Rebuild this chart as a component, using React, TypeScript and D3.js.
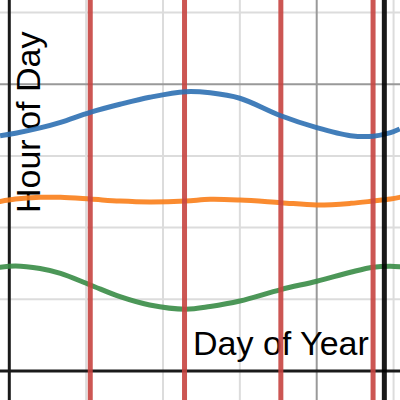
import * as d3 from "d3";

const width = 400;
const height = 400;

// day of year samples and the hour
const days = [-9, 6, 30, 50, 79, 108, 137, 172, 196, 225, 265, 300, 333, 355, 372, 381];
const sunrise = [7.23, 7.33, 7.15, 6.81, 6.0, 5.18, 4.6, 4.31, 4.5, 4.88, 5.68, 6.26, 6.89, 7.24, 7.31, 7.27];
const solarNoon = [11.82, 11.99, 12.11, 12.11, 11.99, 11.85, 11.79, 11.85, 11.97, 11.92, 11.74, 11.58, 11.69, 11.85, 11.99, 12.11];
const sunset = [16.41, 16.58, 16.95, 17.34, 18.04, 18.6, 19.09, 19.48, 19.4, 19.02, 17.8, 16.97, 16.41, 16.37, 16.62, 16.88];

// equinoxes / solstices and end of year
const seasonDays = [79, 171, 265, 355];
const yearEnd = 366;

// grid
const xMinorTicks = [75, 150, 225, 375];
const xMajorTicks = [300];
const yMinorTicks = [5, 10, 15, 25];
const yMajorTicks = [20];

const xScale = d3.scaleLinear().domain([0, 366]).range([9.3, 9.3 + 366 * 1.0247]);
const yScale = d3.scaleLinear().domain([0, 25]).range([371, 371 - 25 * 14.34]);

const curve = (values: number[]) =>
  d3
    .line<number>()
    .x((_, i) => xScale(days[i]))
    .y((v) => yScale(v))
    .curve(d3.curveCatmullRom)(values) || "";

const App = () => {
  return (
    <div style={{ position: "absolute", left: 0, top: 0, width, height }}>
      <svg width={width} height={height} style={{ display: "block", background: "#fff" }}>
        <g className="grid-minor" stroke="#dcdcdc" strokeWidth={2}>
          {xMinorTicks.map((t) => (
            <line key={"x" + t} x1={xScale(t)} x2={xScale(t)} y1={0} y2={height} />
          ))}
          {yMinorTicks.map((t) => (
            <line key={"y" + t} x1={0} x2={width} y1={yScale(t)} y2={yScale(t)} />
          ))}
        </g>
        <g className="grid-major" stroke="#999" strokeWidth={2}>
          {xMajorTicks.map((t) => (
            <line key={"x" + t} x1={xScale(t)} x2={xScale(t)} y1={0} y2={height} />
          ))}
          {yMajorTicks.map((t) => (
            <line key={"y" + t} x1={0} x2={width} y1={yScale(t)} y2={yScale(t)} />
          ))}
        </g>
        <g className="axes" stroke="#1a1a1a" strokeWidth={3}>
          <line x1={xScale(0)} x2={xScale(0)} y1={0} y2={height} />
          <line x1={0} x2={width} y1={yScale(0)} y2={yScale(0)} />
        </g>
        {/* axis labels */}
        <g fontFamily="'Liberation Sans', Arial, sans-serif" fontSize={34} fill="#000">
          <text x={193} y={355}>
            Day of Year
          </text>
          <text transform="translate(40,213) rotate(-90)">Hour of Day</text>
        </g>
        <g fill="none" strokeWidth={5} strokeOpacity={0.9} strokeLinecap="round">
          <path d={curve(solarNoon)} stroke="#fa7e19" />
          <path d={curve(sunrise)} stroke="#388c46" />
        </g>
        <g stroke="#c74440" strokeWidth={5} strokeOpacity={0.9}>
          {seasonDays.map((d) => (
            <line key={d} x1={xScale(d)} x2={xScale(d)} y1={0} y2={height} />
          ))}
        </g>
        <path d={curve(sunset)} fill="none" stroke="#2d70b3" strokeWidth={5} strokeOpacity={0.9} />
        <line
          x1={xScale(yearEnd)}
          x2={xScale(yearEnd)}
          y1={0}
          y2={height}
          stroke="#000"
          strokeWidth={5}
          strokeOpacity={0.9}
        />
      </svg>
    </div>
  );
};

export default App;
